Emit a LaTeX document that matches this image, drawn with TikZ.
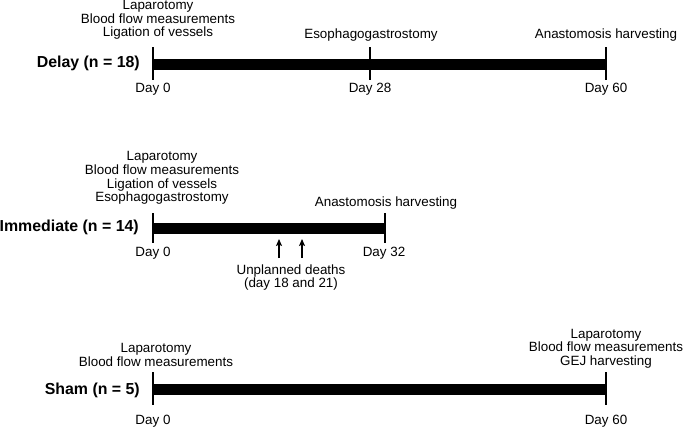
\documentclass[tikz,border=0pt]{standalone}
\usepackage{fontspec}
\setmainfont{Liberation Sans}
\usetikzlibrary{arrows.meta}
\begin{document}
\begin{tikzpicture}[x=1pt, y=-1pt,
    note/.style={align=center, inner sep=0pt, font=\fontsize{13.4}{13.6}\selectfont},
    group/.style={anchor=east, inner sep=0pt, font=\fontsize{15.9}{17}\selectfont\bfseries},
    bar/.style={line width=11pt},
    tick/.style={line width=1.2pt},
    death/.style={-{Stealth[length=7pt, width=6pt, inset=1.5pt]}, line width=1.1pt}
]
    \useasboundingbox (0,0) rectangle (683,429);
    % Delay
    \coordinate (d0)  at (153, 64);
    \coordinate (d28) at (370, 64);
    \coordinate (d60) at (606, 64);
    \draw[bar] (d0) -- (d60);
    \foreach \p in {d0, d28, d60}
        \draw[tick] ([yshift=17pt]\p) -- ([yshift=-16pt]\p);
    \node[group] (delay) at (140, 63) {Delay (n = 18)};
    \node[note] (delaystart) at (158, 20) {Laparotomy\\Blood flow measurements\\Ligation of vessels};
    \node[note] (delayop)  at (371, 35) {Esophagogastrostomy};
    \node[note] (delayend) at (606, 35) {Anastomosis harvesting};
    \node[note] (delaylab0)  at (153, 89) {Day 0};
    \node[note] (delaylab28) at (370, 89) {Day 28};
    \node[note] (delaylab60) at (606, 89) {Day 60};
    % Immediate
    \coordinate (i0)  at (153, 228);
    \coordinate (i32) at (385, 228);
    \draw[bar] (i0) -- (i32);
    \foreach \p in {i0, i32}
        \draw[tick] ([yshift=15pt]\p) -- ([yshift=-15pt]\p);
    \node[group] (immediate) at (139, 227) {Immediate (n = 14)};
    \node[note] (immstart) at (162, 178) {Laparotomy\\Blood flow measurements\\Ligation of vessels\\Esophagogastrostomy};
    \node[note] (immend) at (386, 203) {Anastomosis harvesting};
    \node[note] (immlab0)  at (153, 253) {Day 0};
    \node[note] (immlab32) at (384, 253) {Day 32};
    \coordinate (i18a) at (279, 258);
    \coordinate (i18b) at (279, 239);
    \coordinate (i21a) at (302, 258);
    \coordinate (i21b) at (302, 239);
    \draw[death] (i18a) -- (i18b);
    \draw[death] (i21a) -- (i21b);
    \node[note] (deaths) at (291, 277.5) {Unplanned deaths\\(day 18 and 21)};
    % Sham
    \coordinate (s0)  at (153, 389);
    \coordinate (s60) at (606, 389);
    \draw[bar] (s0) -- (s60);
    \foreach \p in {s0, s60}
        \draw[tick] ([yshift=17pt]\p) -- ([yshift=-16pt]\p);
    \node[group] (sham) at (140, 390) {Sham (n = 5)};
    \node[note] (shamstart) at (156, 355) {Laparotomy\\Blood flow measurements};
    \node[note] (shamend) at (606, 348.5) {Laparotomy\\Blood flow measurements\\GEJ harvesting};
    \node[note] (shamlab0)  at (153, 421) {Day 0};
    \node[note] (shamlab60) at (606, 421) {Day 60};
\end{tikzpicture}
\end{document}
